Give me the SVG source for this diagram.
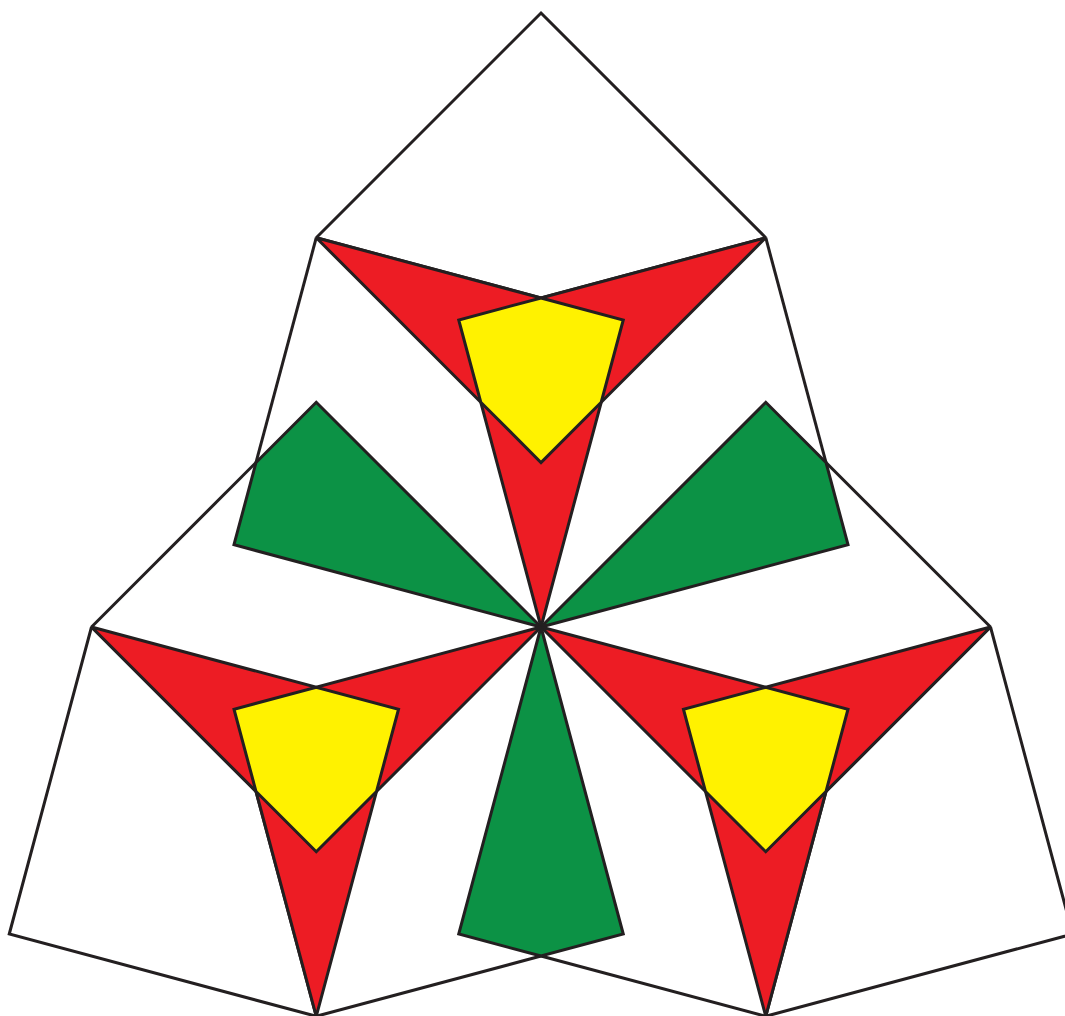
<svg xmlns="http://www.w3.org/2000/svg" xmlns:xlink="http://www.w3.org/1999/xlink" width="1065" height="1016" viewBox="0 0 1065 1016">
  <style>
    .s { stroke: #231F20; stroke-width: 3; stroke-linejoin: miter; stroke-miterlimit: 1.9; stroke-linecap: butt; }
    .w { fill: #FFFFFF; }
    .r { fill: #ED1C24; }
    .y { fill: #FFF200; }
    .g { fill: #0C9245; }
    .l { fill: none; }
  </style>
  <defs>
    <g id="unit">
      <polygon class="s w" points="541,13 765.75,237.73 541,297.95 316.25,237.73"/>
      <polygon class="s g" points="256.03,462.47 316.25,402.25 541,627 233.98,544.73"/>
      <polygon class="s r" points="316.25,237.73 541,297.95 765.75,237.73 601.22,402.25 541,627 480.78,402.25"/>
      <polygon class="s y" points="541,297.95 623.26,320 601.22,402.25 541,462.52 480.78,402.25 458.74,320"/>
      <polyline class="s l" points="316.25,237.73 256.03,462.47"/>
      <polyline class="s l" points="765.75,237.73 825.97,462.47"/>
    </g>
  </defs>
  <rect width="1065" height="1016" fill="#FFFFFF"/>
  <g id="top-unit"><use xlink:href="#unit"/></g>
  <g id="right-unit"><use xlink:href="#unit" transform="rotate(120 541 627)"/></g>
  <g id="left-unit"><use xlink:href="#unit" transform="rotate(240 541 627)"/></g>
</svg>
